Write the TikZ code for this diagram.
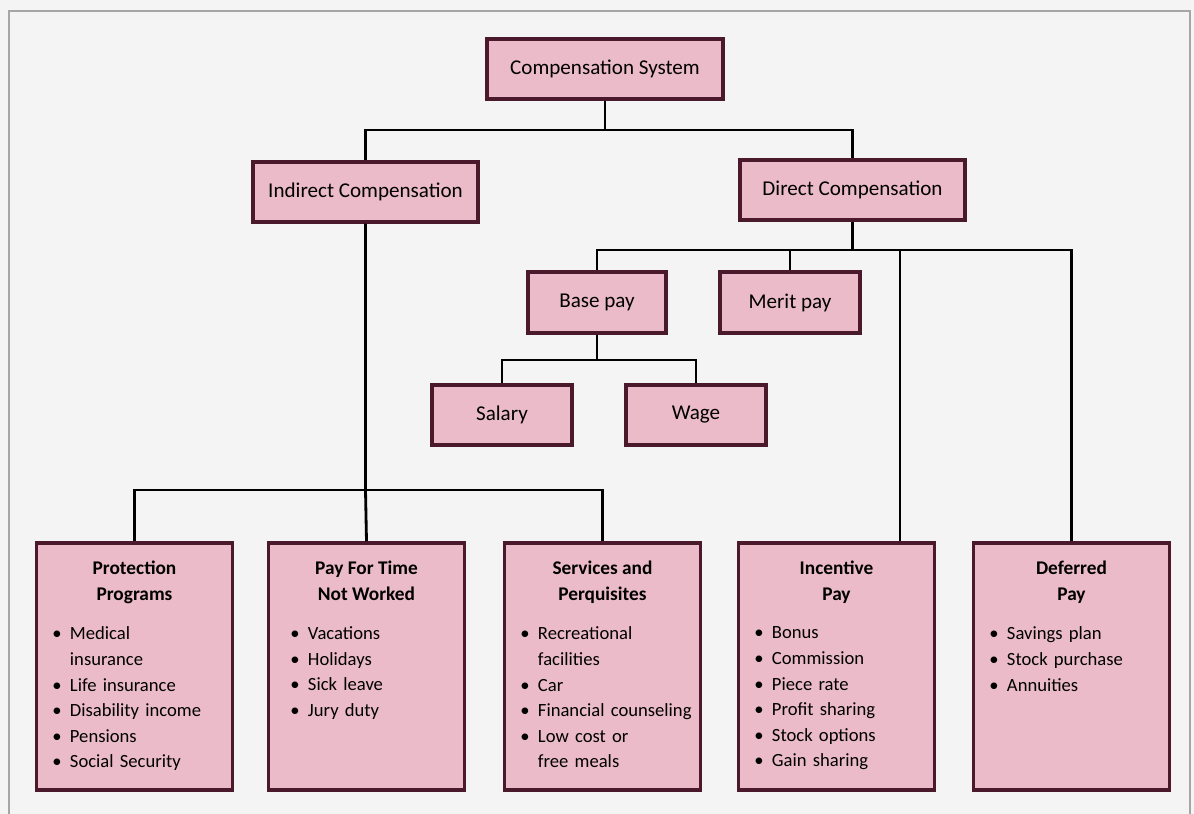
\documentclass[tikz,border=0pt]{standalone}
\usepackage{fontspec}
\setmainfont{Carlito}
\usetikzlibrary{positioning}
\definecolor{boxfill}{HTML}{EBBBCA}
\definecolor{boxline}{HTML}{4A1A2C}
\definecolor{pagebg}{HTML}{F4F4F4}
\newcommand\bitem[1]{\hyphenpenalty=10000\hangindent=0.95em\hangafter=1\makebox[0.95em][l]{\textbullet}#1\par}
\tikzset{
  box/.style={draw=boxline, fill=boxfill, line width=1.8pt, inner sep=0pt},
  topbox/.style={box, minimum height=1.2cm, font=\fontsize{12}{14}\selectfont},
  bigbox/.style={box, minimum width=3.92cm, minimum height=4.94cm},
  bxtitle/.style={align=center, inner sep=0pt, font=\bfseries\fontsize{11}{15}\selectfont},
  bxlist/.style={anchor=north west, inner sep=0pt, text width=3.6cm, align=left, font=\fontsize{10.6}{14.6}\selectfont},
  link/.style={line width=1.6pt, black}
}

\begin{document}
\begin{tikzpicture}[x=0.02cm, y=-0.02cm]
	\fill[pagebg] (0,0) rectangle (1194,814);
	\useasboundingbox (0,0) rectangle (1194,814);
	\draw[gray!70, line width=1.2pt] (9,830) -- (9,11) -- (1190,11) -- (1190,830);

	% upper part
	\node[topbox, minimum width=4.72cm] (comp) at (605,69) {Compensation System};
	\node[topbox, minimum width=4.5cm] (indirect) at (365.5,192) {Indirect Compensation};
	\node[topbox, minimum width=4.5cm] (direct) at (852.5,190) {Direct Compensation};
	\node[topbox, minimum width=2.76cm, minimum height=1.22cm] (base) at (597,302.5) {Base pay};
	\node[topbox, minimum width=2.8cm, minimum height=1.22cm] (merit) at (790,302.5) {Merit pay};
	\node[topbox, minimum width=2.8cm] (salary) at (502,415) {Salary};
	\node[topbox, minimum width=2.8cm] (wage) at (696,415) {Wage};

	% lower boxes
	\foreach \n/\x/\t in {prot/134.5/{Protection\\Programs}, ptnw/366.5/{Pay For Time\\Not Worked},
		serv/602.5/{Services and\\Perquisites}, incent/836.5/{Incentive\\Pay}, defer/1071.5/{Deferred\\Pay}}
	{
		\node[bigbox] (\n) at (\x,666.5) {};
		\node[bxtitle, below=0.38cm of \n.north] (\n T) {\t};
	}
	\node[bxlist] (protL) at ([xshift=0.34cm,yshift=-1.7cm]prot.north west) {%
		\bitem{Medical\newline insurance}\bitem{Life insurance}\bitem{Disability income}\bitem{Pensions}\bitem{Social Security}};
	\node[bxlist] (ptnwL) at ([xshift=0.46cm,yshift=-1.7cm]ptnw.north west) {%
		\bitem{Vacations}\bitem{Holidays}\bitem{Sick leave}\bitem{Jury duty}};
	\node[bxlist] (servL) at ([xshift=0.34cm,yshift=-1.7cm]serv.north west) {%
		\bitem{Recreational\newline facilities}\bitem{Car}\bitem{Financial counseling}\bitem{Low cost or\newline free meals}};
	\node[bxlist] (incentL) at ([xshift=0.34cm,yshift=-1.7cm]incent.north west) {%
		\bitem{Bonus}\bitem{Commission}\bitem{Piece rate}\bitem{Profit sharing}\bitem{Stock options}\bitem{Gain sharing}};
	\node[bxlist] (deferL) at ([xshift=0.34cm,yshift=-1.7cm]defer.north west) {%
		\bitem{Savings plan}\bitem{Stock purchase}\bitem{Annuities}};

	% connectors
	\coordinate (j1) at (605,130);
	\coordinate (j2) at (365.5,490);
	\coordinate (j3) at (852.5,250);
	\coordinate (j4) at (597,360);
	\draw[link] (comp.south) -- (j1) -| (indirect.north);
	\draw[link] (j1) -| (direct.north);
	\draw[link] (indirect.south) -- (j2) -- (ptnw.north);
	\draw[link] (j2) -| (prot.north);
	\draw[link] (j2) -| (serv.north);
	\draw[link] (direct.south) -- (j3) -| (base.north);
	\draw[link] (j3) -| (merit.north);
	\draw[link] (j3) -| ([xshift=1.27cm]incent.north);
	\draw[link] (j3) -| (defer.north);
	\draw[link] (base.south) -- (j4) -| (salary.north);
	\draw[link] (j4) -| (wage.north);
\end{tikzpicture}
\end{document}
